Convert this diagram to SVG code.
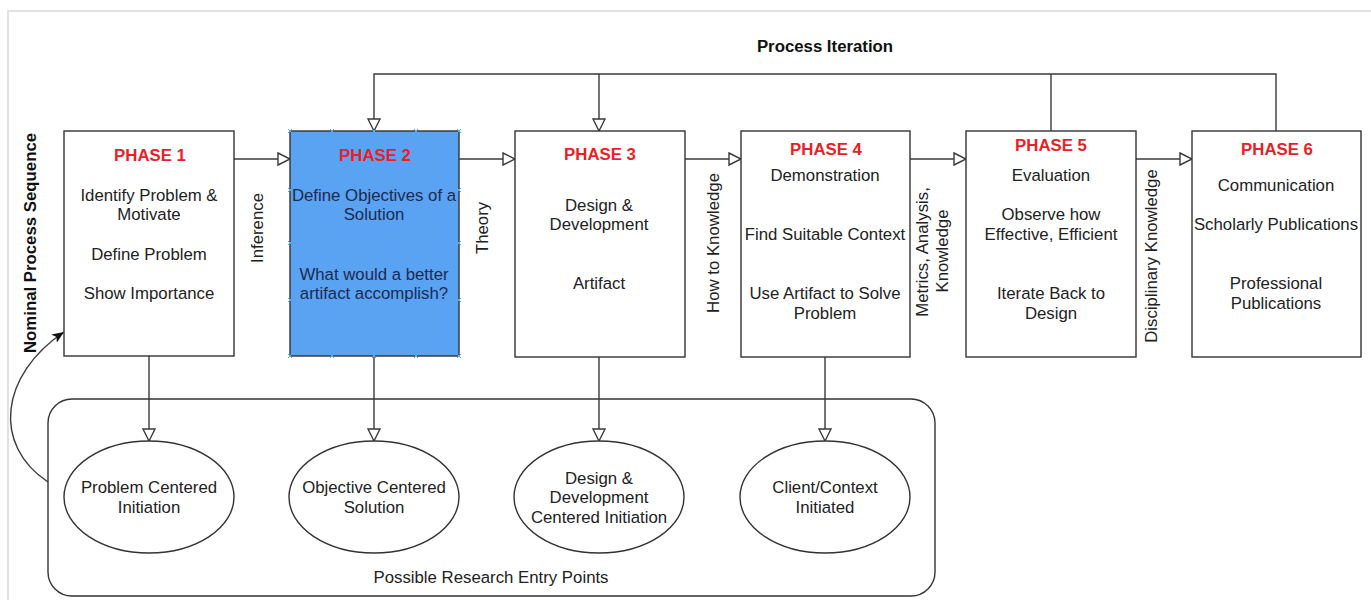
<svg xmlns="http://www.w3.org/2000/svg" width="1371" height="600" viewBox="0 0 1371 600">
  <style>
    text { font-family: "Liberation Sans", Arial, sans-serif; font-size: 16.8px; fill: #222; text-anchor: middle; dominant-baseline: central; }
    .title { font-weight: bold; fill: #ee1c25; }
    .bold { font-weight: bold; fill: #111; }
    .box { fill: #fff; stroke: #333; stroke-width: 1.4; }
    .hl { fill: #5aa2f2; }
    .hl-text { fill: #1c2b50; }
    .edge { fill: none; stroke: #3a3a3a; stroke-width: 1.4; }
    .handle { stroke: #4fb3ea; stroke-width: 1; fill: none; }
  </style>
  <defs>
    <marker id="open" markerUnits="userSpaceOnUse" markerWidth="16" markerHeight="16" refX="13" refY="7" orient="auto">
      <path d="M1,1 L13,7 L1,13 Z" fill="#fff" stroke="#3a3a3a" stroke-width="1.4"/>
    </marker>
    <marker id="solid" markerUnits="userSpaceOnUse" markerWidth="14" markerHeight="14" refX="12" refY="6" orient="auto">
      <path d="M0,1 L12,6 L0,11 L3,6 Z" fill="#111"/>
    </marker>
  </defs>

  <rect width="1371" height="600" fill="#fff"/>
  <!-- page frame -->
  <path d="M8,600 V11 H1371" fill="none" stroke="#d9d9d9" stroke-width="1.5"/>

  <!-- entry point container -->
  <g id="entry-points">
    <rect x="48" y="399" width="887" height="197" rx="24" ry="24" class="box"/>
    <text x="491" y="577">Possible Research Entry Points</text>
  </g>

  <g id="connectors">
    <!-- process iteration loop -->
    <path class="edge" d="M1276,131 V74 H374 V131" marker-end="url(#open)"/>
    <path class="edge" d="M1051,131 V74"/>
    <path class="edge" d="M599,74 V131" marker-end="url(#open)"/>
    <!-- nominal sequence -->
    <path class="edge" d="M234,159 H290" marker-end="url(#open)"/>
    <path class="edge" d="M459,159 H515" marker-end="url(#open)"/>
    <path class="edge" d="M685,159 H741" marker-end="url(#open)"/>
    <path class="edge" d="M910,159 H966" marker-end="url(#open)"/>
    <path class="edge" d="M1136,159 H1192" marker-end="url(#open)"/>
    <!-- entry points -->
    <path class="edge" d="M149,356 V441" marker-end="url(#open)"/>
    <path class="edge" d="M374,356 V441" marker-end="url(#open)"/>
    <path class="edge" d="M599,357 V441" marker-end="url(#open)"/>
    <path class="edge" d="M825,357 V441" marker-end="url(#open)"/>
    <!-- return to phase 1 -->
    <path class="edge" d="M48,482 C-8,445 0,375 64,332" stroke="#222" marker-end="url(#solid)"/>
    <!-- labels -->
    <text class="bold" x="825" y="46">Process Iteration</text>
    <text class="bold" transform="translate(30,243) rotate(-90)">Nominal Process Sequence</text>
    <text transform="translate(257,228) rotate(-90)">Inference</text>
    <text transform="translate(482,228) rotate(-90)">Theory</text>
    <text transform="translate(713,243) rotate(-90)">How to Knowledge</text>
    <text transform="translate(922,252) rotate(-90)">Metrics, Analysis,</text>
    <text transform="translate(942,251) rotate(-90)">Knowledge</text>
    <text transform="translate(1151,256) rotate(-90)">Disciplinary Knowledge</text>
  </g>

  <g id="phase1">
    <rect x="64" y="131" width="170" height="225" class="box"/>
    <text class="title" x="150" y="155">PHASE 1</text>
    <text x="149" y="195">Identify Problem &amp;</text>
    <text x="149" y="214">Motivate</text>
    <text x="149" y="254">Define Problem</text>
    <text x="149" y="293">Show Importance</text>
  </g>

  <g id="phase2">
    <rect x="290" y="131" width="169" height="225" class="box hl"/>
    <text class="title" x="375" y="155">PHASE 2</text>
    <text class="hl-text" x="374" y="195">Define Objectives of a</text>
    <text class="hl-text" x="374" y="214">Solution</text>
    <text class="hl-text" x="374" y="274">What would a better</text>
    <text class="hl-text" x="374" y="293">artifact accomplish?</text>
    <!-- connection handles -->
    <g class="handle">
      <path d="M288,129 l4,4 m0,-4 l-4,4 M330,129 l4,4 m0,-4 l-4,4 M372,129 l4,4 m0,-4 l-4,4 M414,129 l4,4 m0,-4 l-4,4 M457,129 l4,4 m0,-4 l-4,4"/>
      <path d="M288,354 l4,4 m0,-4 l-4,4 M330,354 l4,4 m0,-4 l-4,4 M372,354 l4,4 m0,-4 l-4,4 M414,354 l4,4 m0,-4 l-4,4 M457,354 l4,4 m0,-4 l-4,4"/>
      <path d="M288,188 l4,4 m0,-4 l-4,4 M288,241 l4,4 m0,-4 l-4,4 M288,298 l4,4 m0,-4 l-4,4"/>
      <path d="M457,188 l4,4 m0,-4 l-4,4 M457,241 l4,4 m0,-4 l-4,4 M457,298 l4,4 m0,-4 l-4,4"/>
    </g>
  </g>

  <g id="phase3">
    <rect x="515" y="131" width="170" height="226" class="box"/>
    <text class="title" x="600" y="154">PHASE 3</text>
    <text x="599" y="205">Design &amp;</text>
    <text x="599" y="224">Development</text>
    <text x="599" y="283">Artifact</text>
  </g>

  <g id="phase4">
    <rect x="741" y="131" width="169" height="226" class="box"/>
    <text class="title" x="826" y="149">PHASE 4</text>
    <text x="825" y="175">Demonstration</text>
    <text x="825" y="234">Find Suitable Context</text>
    <text x="825" y="293">Use Artifact to Solve</text>
    <text x="825" y="313">Problem</text>
  </g>

  <g id="phase5">
    <rect x="966" y="131" width="170" height="226" class="box"/>
    <text class="title" x="1051" y="145">PHASE 5</text>
    <text x="1051" y="175">Evaluation</text>
    <text x="1051" y="214">Observe how</text>
    <text x="1051" y="234">Effective, Efficient</text>
    <text x="1051" y="293">Iterate Back to</text>
    <text x="1051" y="313">Design</text>
  </g>

  <g id="phase6">
    <rect x="1192" y="131" width="169" height="226" class="box"/>
    <text class="title" x="1277" y="149">PHASE 6</text>
    <text x="1276" y="185">Communication</text>
    <text x="1276" y="224">Scholarly Publications</text>
    <text x="1276" y="283">Professional</text>
    <text x="1276" y="303">Publications</text>
  </g>

  <g id="entry-problem">
    <ellipse cx="149" cy="497" rx="85" ry="56" class="box"/>
    <text x="149" y="487">Problem Centered</text>
    <text x="149" y="507">Initiation</text>
  </g>
  <g id="entry-objective">
    <ellipse cx="374" cy="497" rx="85" ry="56" class="box"/>
    <text x="374" y="487">Objective Centered</text>
    <text x="374" y="507">Solution</text>
  </g>
  <g id="entry-design">
    <ellipse cx="599" cy="497" rx="85" ry="56" class="box"/>
    <text x="599" y="478">Design &amp;</text>
    <text x="599" y="497">Development</text>
    <text x="599" y="517">Centered Initiation</text>
  </g>
  <g id="entry-client">
    <ellipse cx="825" cy="497" rx="85" ry="56" class="box"/>
    <text x="825" y="487">Client/Context</text>
    <text x="825" y="507">Initiated</text>
  </g>
</svg>
